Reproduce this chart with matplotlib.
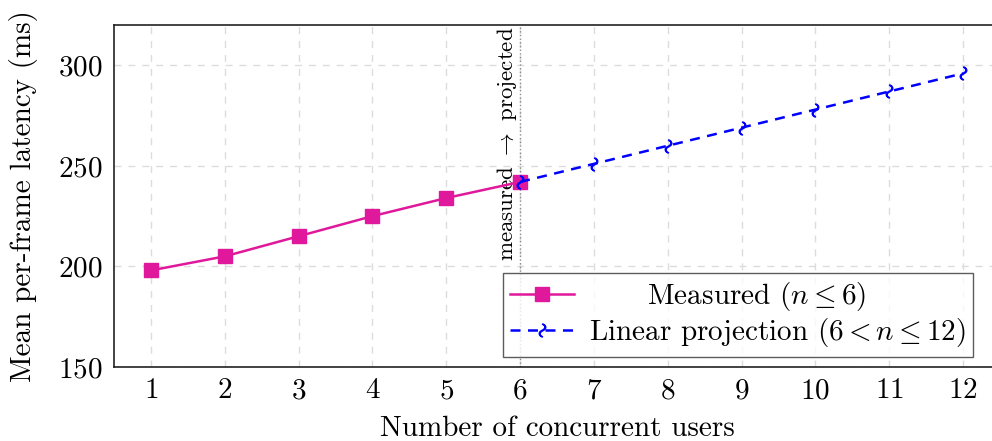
import numpy as np
import matplotlib
matplotlib.use("Agg")
from matplotlib import pyplot as plt
from matplotlib.markers import MarkerStyle
from matplotlib.transforms import Affine2D

plt.rcParams['font.family'] = 'cmr10'
plt.rcParams['mathtext.fontset'] = 'cm'
plt.rcParams['axes.unicode_minus'] = False
plt.rcParams['axes.formatter.use_mathtext'] = True

# measured latency per number of users
users_measured = [1, 2, 3, 4, 5, 6]
latency_measured = [198, 205, 215, 225, 234, 242]

# linear extrapolation beyond the measured range
users_projected = [6, 7, 8, 9, 10, 11, 12]
latency_projected = [242, 251, 260, 269, 278, 287, 296]

xticks = list(range(1, 13))
yticks = [150, 200, 250, 300]

fig = plt.figure(figsize=(9.92, 4.41), dpi=100)
ax = fig.add_axes([0.115, 0.168, 0.893, 0.775])

ax.grid(True, color='#dcdcdc', linestyle=(0, (5, 5)), linewidth=1.0)
ax.set_axisbelow(True)

ax.axvline(6, color='#8c8c8c', linestyle=':', linewidth=1.0, zorder=1)
ax.text(5.98, 319, r'measured $\rightarrow$ projected', rotation=90,
        ha='right', va='top', fontsize=16.5)

ax.plot(users_measured, latency_measured, color='#e0189b', linewidth=1.8,
        marker='s', markersize=10, label=r'      Measured ($n \leq 6$)', zorder=3)

squiggle = MarkerStyle(r'$\sim$', transform=Affine2D().rotate_deg(70))
ax.plot(users_projected, latency_projected, color='#0000ff', linewidth=1.8,
        linestyle=(0, (4, 3)), marker=squiggle, markersize=9,
        label=r'Linear projection ($6 < n \leq 12$)', zorder=4)

ax.set_xlim(0.5, 12.5)
ax.set_ylim(150, 320)
ax.set_xticks(xticks)
ax.set_yticks(yticks)
ax.tick_params(length=0, labelsize=21, pad=8)

for s in ax.spines.values():
    s.set_linewidth(1.2)
    s.set_color('#222222')

ax.set_xlabel('Number of concurrent users', fontsize=21, labelpad=8)
ax.set_ylabel('Mean per-frame latency (ms)', fontsize=21, labelpad=15)

leg = ax.legend(loc='lower right', bbox_to_anchor=(0.9695, 0.03), fontsize=21,
                frameon=True, fancybox=False, edgecolor='#333333',
                handlelength=2.2, handletextpad=0.5, borderpad=0.25,
                labelspacing=0.1, borderaxespad=0.0)
leg.get_frame().set_linewidth(1.0)

fig.savefig('out.png', dpi=100)
